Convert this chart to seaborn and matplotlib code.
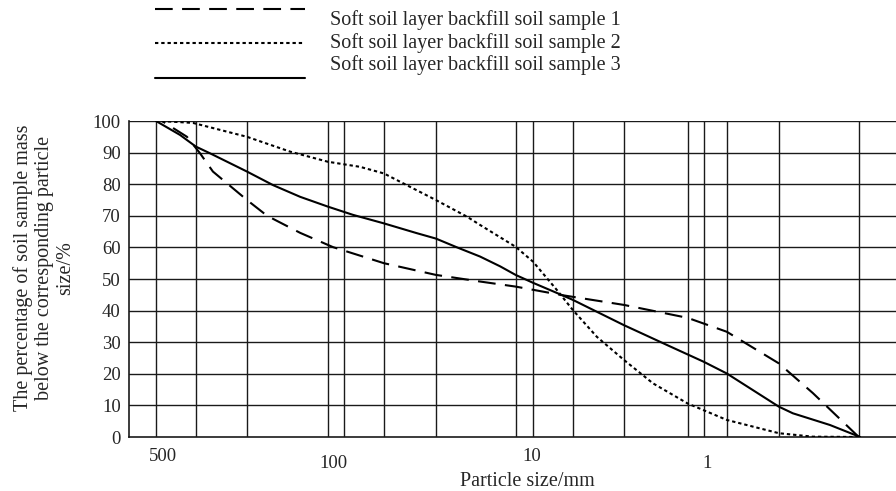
import numpy as np
import pandas as pd
import matplotlib
matplotlib.use("Agg")
import matplotlib.pyplot as plt
from matplotlib.lines import Line2D
from matplotlib.transforms import ScaledTranslation
import seaborn as sns

# ---------------- data ----------------
series_names = ["Soft soil layer backfill soil sample 1",
                "Soft soil layer backfill soil sample 2",
                "Soft soil layer backfill soil sample 3"]

size_s1 = [604, 453, 390, 336, 227, 180, 123, 84.4, 46.9, 25.8, 15.5, 10.3,
           6.04, 2.96, 1.42, 0.905, 0.497, 0.336, 0.198]
pct_s1 = [100, 95, 89.8, 84, 75, 70, 64.6, 60.1, 55, 51.3, 49.2, 47.6,
          44.9, 41.8, 37.7, 33.3, 23.3, 13.9, 0]

size_s2 = [618, 423, 227, 138, 89.4, 61.8, 46.9, 34.8, 25.8, 18.0, 15.5,
           10.3, 8.43, 6.40, 5.33, 4.04, 2.96, 2.12, 1.42, 0.905, 0.497,
           0.336, 0.198]
pct_s2 = [100, 99.4, 95, 90.3, 87.1, 85.5, 83.4, 79.2, 75, 69.7, 67.1,
          60.2, 55.5, 46.5, 40.2, 31.7, 24.4, 17.0, 10.6, 5.4, 1.2, 0.1, 0]

size_s3 = [647, 491, 409, 348, 227, 168, 123, 89.4, 67.0, 46.9, 32.1, 25.8,
           20.2, 15.5, 12.3, 10.3, 8.43, 6.04, 5.33, 2.96, 1.80, 1.18, 0.905,
           0.497, 0.423, 0.276, 0.195]
pct_s3 = [100, 95.6, 91.9, 89.8, 84.0, 79.7, 76.0, 72.9, 70.3, 67.6, 64.5,
          62.8, 60.0, 57.1, 54.0, 51.3, 48.8, 44.9, 43.4, 35.4, 29.1, 23.8, 20.1,
          9.6, 7.5, 3.8, 0]

# vertical grid (sieve) lines of the chart, in mm
grid_sizes = [647, 409, 227, 89.4, 74.3, 46.9, 25.8, 10.3, 8.43, 5.33,
              2.96, 1.42, 1.18, 0.905, 0.497, 0.198]
x_ticks = [500, 100, 10, 1]
x_tick_labels = ["500", "100", "10", "1"]
y_ticks = [0, 10, 20, 30, 40, 50, 60, 70, 80, 90, 100]

# ---------------- build frame ----------------
frames = []
for name, xs, ys in zip(series_names, [size_s1, size_s2, size_s3],
                        [pct_s1, pct_s2, pct_s3]):
    frames.append(pd.DataFrame({"size": xs, "pct": ys, "sample": name}))
df = pd.concat(frames, ignore_index=True)

# ---------------- style ----------------
sns.set_style("white")
plt.rcParams["font.family"] = ["Liberation Serif", "DejaVu Serif"]

fig = plt.figure(figsize=(8.96, 4.91), dpi=100)
ax = fig.add_axes([129 / 896, 1 - 437 / 491, 1 - 129 / 896, (437 - 121) / 491])

lw = 1.5
dash_map = {series_names[0]: (8.5, 4.5),
            series_names[1]: (1.6, 1.4),
            series_names[2]: ""}

ax.set_xscale("log")
sns.lineplot(data=df, x="size", y="pct", hue="sample", style="sample",
             palette=["black"] * 3, dashes=dash_map, estimator=None,
             linewidth=lw, legend=False, ax=ax, zorder=3)

# grid
for g in grid_sizes:
    ax.axvline(g, color="#1a1a1a", lw=1.0, zorder=1)
for yv in y_ticks[1:]:
    ax.axhline(yv, color="#1a1a1a", lw=1.0, zorder=1)

ax.set_xlim(883, 0.129)
ax.set_ylim(0, 100)
ax.set_xticks(x_ticks)
ax.set_xticklabels(x_tick_labels)
ax.minorticks_off()
ax.set_yticks(y_ticks)
ax.tick_params(axis="both", length=0, labelsize=13.5)
ax.tick_params(axis="y", pad=6)

# the reference places its x labels slightly off the exact log positions
pads = [8, 13, 8, 13]
shifts_px = [-15, 15, 14, -11]
for t, p in zip(ax.xaxis.get_major_ticks(), pads):
    t.set_pad(p)
for lab, dx in zip(ax.get_xticklabels(), shifts_px):
    lab.set_transform(lab.get_transform() +
                      ScaledTranslation(dx / 100, 0, fig.dpi_scale_trans))

for s in ["top", "right"]:
    ax.spines[s].set_visible(False)
for s in ["left", "bottom"]:
    ax.spines[s].set_color("#1a1a1a")
    ax.spines[s].set_linewidth(1.2)

ax.set_xlabel("")
ax.set_ylabel("")
fs = 14.5
fig.text(527 / 896, 1 - 481 / 491, "Particle size/mm", ha="center",
         va="center", fontsize=fs)
fig.text(44 / 896, 1 - 268 / 491,
         "The percentage of soil sample mass\nbelow the corresponding particle\nsize/%",
         rotation=90, ha="center", va="center", fontsize=fs,
         linespacing=1.12, multialignment="center")

# legend drawn in the reference's detached style
leg_y_lines = [9, 43, 78]
leg_y_text = [20, 43, 65]
styles = [(0, (8.5, 4.5)), (0, (1.6, 1.4)), "-"]
for yl, yt, st, name in zip(leg_y_lines, leg_y_text, styles, series_names):
    fig.add_artist(Line2D([155 / 896, 305 / 896], [1 - yl / 491, 1 - yl / 491],
                          color="black", lw=lw, linestyle=st,
                          transform=fig.transFigure))
    fig.text(330 / 896, 1 - yt / 491, name, ha="left", va="center",
             fontsize=fs)

fig.savefig("out.png", dpi=100)
